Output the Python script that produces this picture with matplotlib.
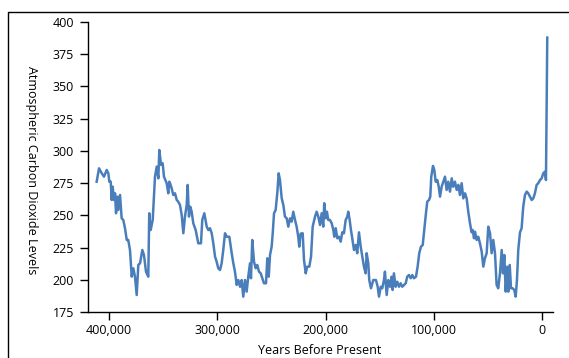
import matplotlib
matplotlib.use('Agg')
import matplotlib.pyplot as plt
from matplotlib.lines import Line2D
from matplotlib.ticker import FuncFormatter

# Vostok-style CO2 record
years_bp = [411500, 409300, 406800, 404700, 402200, 400700, 399800, 398500, 397600, 396700,
            395500, 394500, 393600, 392400, 391500, 389900, 388400, 386900, 385300, 383700,
            382300, 380700, 379100, 377600, 376100, 374500, 373000, 371400, 369300, 367800,
            365900, 363800, 362900, 361600, 359700, 357600, 356000, 354500, 353600, 352000,
            350500, 349300, 346800, 345300, 344400,
            343700, 342200, 340700, 339100, 337500, 336100, 334500, 332900, 331400, 329900,
            328300, 327400, 326200, 325000, 323700, 322200, 320000, 317600, 315100, 313900,
            312000, 309800, 308300, 306800, 305200, 303700, 302100, 300600, 299100, 297500,
            296000, 294500, 292900, 291300, 288900, 286700, 285200, 283700, 282100, 280600,
            279000, 277500, 276000,
            274400, 272900, 271400, 269800, 268900, 267700, 266100, 264500, 263100, 261500,
            259900, 258400, 256900, 255000, 253800, 252500, 251300, 249800, 248800, 247600,
            246100, 244600, 243300, 242100, 240500, 239000, 237500, 235900, 234400, 232800,
            231300, 229800, 228200, 226700, 225200, 224300, 223000, 221100, 219900, 218300,
            216900, 215000, 213400, 211900, 209700, 208200, 206700, 205100,
            203600, 202100, 201200, 199900, 198700, 197500, 195900, 194300, 192800, 191900,
            190600, 189100, 187600, 186000, 184500, 183000, 181400, 179900, 179000, 177700,
            176500, 175300, 173700, 172100, 170700, 169100, 167500, 166000, 164500, 162900,
            162000, 160500, 159600, 158000, 155900, 153400, 151800, 150600, 149000, 147600,
            146000, 145100, 143500, 142000, 140400, 138900, 138000, 136800, 135200, 133700,
            132100, 130600, 129100, 127500, 125900, 124500, 122900, 121300, 119800, 118300,
            116400, 114900, 113400, 111800, 110200, 108800, 107200, 106000, 104400, 103200,
            102300, 100700, 99500, 98200, 96700, 95400, 94200, 92700, 91200, 89600,
            88100, 86600, 85000, 83400, 82000, 80400, 78800, 77300, 75800, 74200,
            72700, 71100,
            69600, 68100, 66500, 65000, 64000, 62800, 61900, 60300, 58900, 57300,
            55700, 54200, 52700, 51100, 49600, 48000, 46500, 45000, 43400, 41900,
            40400, 38800, 37200, 36000, 34800, 33500, 32100, 31100, 29800, 28600,
            27100, 25600, 24300, 23100, 21900, 20300, 18800, 17300, 15700, 14100,
            12700, 11100, 9500, 8000, 6500, 4900, 3400, 1800, 300, -1200,
            -2800, -3700, -4900]

co2_ppm = [276.1, 286.5, 282.6, 280, 285.2, 282.6, 276.1, 276.1, 261.9, 272.2,
           261.9, 267.1, 251.6, 264.5, 254.2, 265.8, 247.7, 246.4, 240, 230.9,
           230.9, 223.1, 202.4, 208.9, 202.4, 188.2, 211.5, 212.8, 223.1, 219.2,
           206.3, 202.4, 251.6, 238.6, 246.4, 280, 287.8, 278.7, 300.7, 289.1,
           290.4, 280, 274.9, 267.1, 276.1,
           274.9, 271, 265.8, 267.1, 261.9, 260.6, 258, 250.3, 236.1, 249,
           258, 273.6, 249, 256.7, 252.8, 243.8, 238.6, 228.3, 228.3, 246.4,
           251.6, 241.2, 238.6, 240, 236.1, 228.3, 217.9, 214, 208.9, 207.6,
           212.8, 223.1, 236.1, 233.4, 233.4, 220.6, 212.8, 206.3, 196, 199.8,
           194.6, 199.8, 186.9,
           199.8, 190.8, 202.4, 212.8, 201.2, 230.9, 214, 208.9, 211.5, 206.3,
           205, 201.2, 197.3, 197.3, 216.7, 202.4, 219.2, 225.7, 236.1, 251.6,
           254.2, 267.1, 282.6, 277.4, 263.2, 258, 249, 247.7, 241.2, 247.7,
           245.1, 252.8, 246.4, 241.2, 233.4, 225.7, 235.8, 236.1, 215.4, 205,
           210.2, 210.2, 217.9, 241.2, 249, 252.8, 249, 242.5,
           251.6, 241.2, 259.4, 247.7, 252.8, 246.4, 246.4, 243.8, 238.6, 233.4,
           240, 232.2, 233.4, 229.6, 236.8, 236.1, 246.4, 249, 252.8, 246.4,
           238.6, 232.2, 223.1, 227, 220.6, 236.8, 225.7, 217.9, 210.2, 205,
           220.6, 212.8, 199.8, 193.4, 199.8, 199.8, 194.6, 186.9, 194.6, 193.4,
           199.8, 206.3, 188.2, 199.8, 194.6, 202.4, 192.1, 205, 194.6, 198.5,
           194.6, 197.3, 194.6, 196, 197.3, 202.4, 203.7, 201.2, 203.7, 201.2,
           202.4, 210.2, 220.6, 225.7, 227, 238.6, 251.6, 260.6, 261.9, 264.5,
           280, 288.3, 285.2, 276.1, 277.4, 272.2, 264.5, 272.2, 276.1, 280,
           269.7, 276.1, 268.4, 278.7, 272.2, 276.1, 269.7, 273.6, 265.8, 274.9,
           263.2, 267.1,
           263.2, 252.8, 243.8, 236.8, 238.6, 232.2, 237.3, 230.9, 233.4, 228.3,
           221.8, 210.2, 216.7, 220.6, 241.2, 236.1, 220.6, 230.9, 220.6, 196,
           193.4, 205, 223.1, 205, 219.2, 190.8, 210.2, 190.8, 211.5, 193.4,
           193.4, 192.1, 186.9, 199.8, 223.1, 236.8, 240, 256.7, 265.8, 268.4,
           267.1, 264.5, 261.9, 263.2, 267.1, 273.6, 274.9, 277.4, 278.7, 282.6,
           283.9, 277.4, 387.9]

x_ticks = [400000, 300000, 200000, 100000, 0]
y_ticks = [175, 200, 225, 250, 275, 300, 325, 350, 375, 400]

plt.rcParams['font.family'] = ['Open Sans', 'DejaVu Sans']
plt.rcParams['font.size'] = 9

W, H = 569, 358
fig = plt.figure(figsize=(W / 100, H / 100), dpi=100)
ax = fig.add_axes([88 / W, 1 - 312 / H, (553 - 88) / W, (312 - 22) / H])

ax.plot(years_bp, co2_ppm, color='#4a7ebb', lw=1.8, solid_joinstyle='round')

ax.set_xlim(419500, -10200)
ax.set_ylim(175, 400)
ax.set_xticks(x_ticks)
ax.set_yticks(y_ticks)
ax.xaxis.set_major_formatter(FuncFormatter(lambda v, p: f"{int(v):,}"))

for side in ['top', 'right']:
    ax.spines[side].set_visible(False)
for side in ['left', 'bottom']:
    ax.spines[side].set_color('black')
    ax.spines[side].set_linewidth(1.0)
ax.tick_params(axis='both', direction='out', length=6, width=1.0, colors='black', labelsize=9)
ax.tick_params(axis='y', pad=4)
ax.tick_params(axis='x', pad=3)

# outer frame, cut off at right and bottom like the reference
fig.add_artist(Line2D([8 / W, 8 / W, 1], [0, 1 - 12 / H, 1 - 12 / H],
                      transform=fig.transFigure, color='black', lw=1.0))

fig.text(31 / W, 1 - 170 / H, 'Atmospheric Carbon Dioxide Levels',
         rotation=270, ha='center', va='center', fontsize=9)
fig.text(320 / W, 1 - 350 / H, 'Years Before Present',
         ha='center', va='center', fontsize=9)

fig.savefig('out.png', dpi=100)
